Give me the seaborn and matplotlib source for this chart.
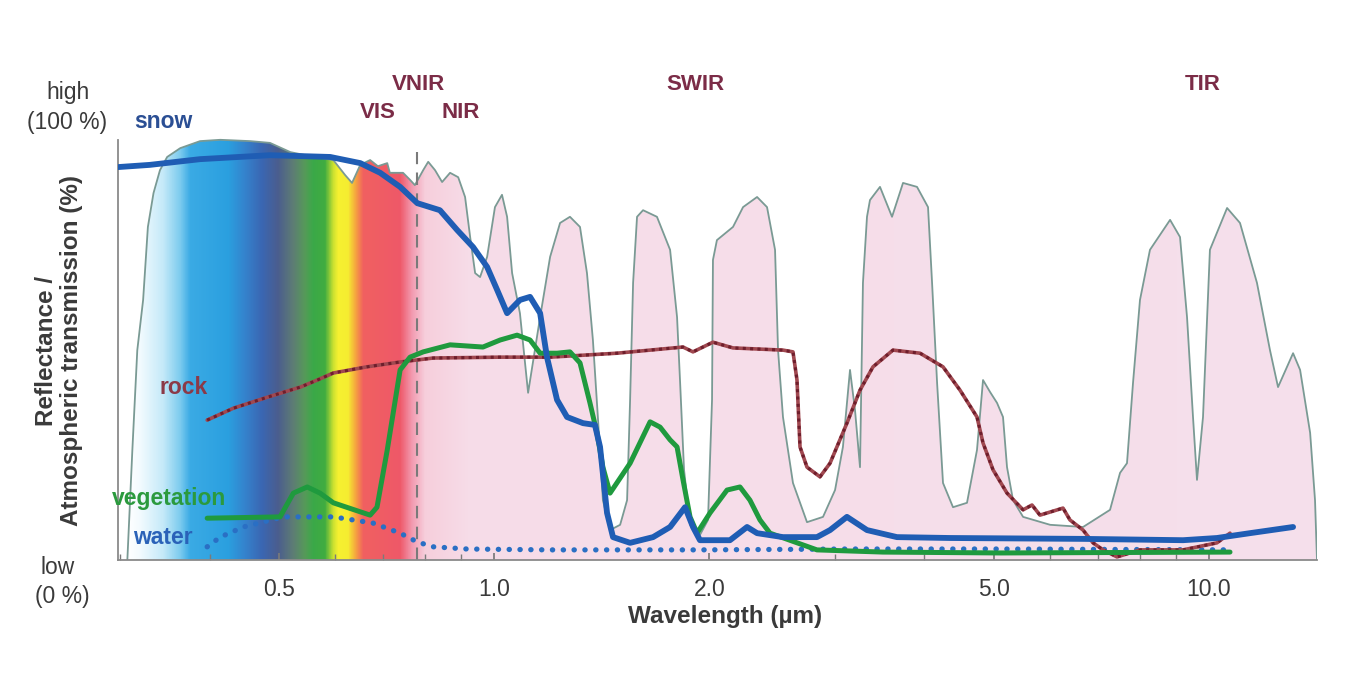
import numpy as np
import matplotlib
matplotlib.use("Agg")
import matplotlib.pyplot as plt
import seaborn as sns
from matplotlib.colors import LinearSegmentedColormap
from matplotlib.ticker import FixedLocator, FixedFormatter, NullFormatter, LogLocator

# === Data === #

# atmospheric transmission (outline of the windows), wavelength in um / percent
trans_um = [0.307, 0.312, 0.317, 0.323, 0.328, 0.334, 0.341, 0.349, 0.364, 0.388,
            0.414, 0.456, 0.486, 0.519, 0.553, 0.596, 0.619, 0.633, 0.650, 0.671,
            0.688, 0.709, 0.715, 0.746, 0.763, 0.775, 0.796, 0.809, 0.827, 0.846,
            0.868, 0.891, 0.911, 0.926, 0.941, 0.956, 0.978, 1.003, 1.026, 1.043,
            1.060, 1.087, 1.116, 1.160, 1.198, 1.237, 1.277, 1.319, 1.349, 1.375,
            1.398, 1.420, 1.453, 1.501, 1.535, 1.550, 1.565, 1.585, 1.616, 1.690,
            1.763, 1.803, 1.821, 1.844, 1.880, 1.941, 1.992, 2.018, 2.024, 2.050,
            2.159, 2.230, 2.333, 2.409, 2.472, 2.496, 2.536, 2.619, 2.740, 2.885,
            2.999, 3.076, 3.147, 3.198, 3.250, 3.281, 3.324, 3.356, 3.466, 3.603,
            3.733, 3.905, 4.046, 4.099, 4.166, 4.246, 4.385, 4.587, 4.737, 4.830,
            4.940, 5.053, 5.151, 5.218, 5.320, 5.495, 5.995, 6.666, 7.271, 7.509,
            7.679, 7.829, 8.007, 8.269, 8.822, 9.109, 9.317, 9.498, 9.621, 9.809,
            10.03, 10.60, 11.05, 11.67, 12.17, 12.49, 13.11, 13.41, 13.85, 14.07,
            14.16]
trans_pct = [0, 25.0, 47.7, 59.1, 75.7, 83.4, 88.6, 91.6, 93.6, 95.2,
             95.5, 95.2, 94.8, 92.7, 91.8, 90.9, 87.5, 85.7, 89.8, 90.9,
             89.5, 90.2, 88.0, 88.0, 86.4, 85.2, 88.6, 90.5, 88.6, 85.9,
             88.0, 87.0, 82.5, 73.4, 65.2, 64.3, 68.9, 80.2, 83.0, 78.0,
             65.2, 56.1, 38.0, 55.2, 68.9, 76.6, 78.0, 75.7, 65.2, 50.0,
             31.8, 13.6, 6.8, 8.0, 13.6, 36.4, 63.0, 78.0, 79.5, 78.0,
             70.5, 55.2, 40.2, 20.5, 8.0, 5.7, 9.1, 36.4, 68.2, 72.7,
             75.7, 80.2, 82.5, 80.2, 70.5, 47.7, 32.5, 17.5, 8.6, 9.8,
             15.9, 25.7, 43.2, 34.1, 21.1, 63.0, 78.0, 81.8, 84.8, 78.0,
             85.7, 84.8, 80.2, 63.0, 40.2, 17.5, 12.0, 13.0, 25.0, 40.9,
             38.2, 35.7, 32.5, 21.1, 13.6, 9.8, 8.0, 7.5, 11.4, 19.8,
             22.0, 40.2, 59.1, 70.5, 77.3, 73.4, 55.2, 32.5, 18.2, 32.5,
             70.5, 80.0, 76.6, 63.0, 47.7, 39.3, 47.0, 43.2, 28.9, 13.6,
             0]

# reflectance spectra
snow_um = [0.298, 0.330, 0.388, 0.486, 0.590, 0.650, 0.693, 0.739, 0.781, 0.840,
           0.888, 0.935, 0.978, 1.010, 1.043, 1.087, 1.123, 1.160, 1.186, 1.225,
           1.265, 1.332, 1.384, 1.407, 1.439, 1.467, 1.550, 1.669, 1.763, 1.850,
           1.898, 1.941, 2.138, 2.259, 2.333, 2.536, 2.829, 2.951, 3.116, 3.324,
           3.661, 4.343, 6.666, 9.198, 10.26, 11.41, 13.11]
snow_pct = [89.3, 89.8, 91.1, 92.0, 91.6, 90.2, 88.0, 84.8, 81.1, 79.5,
            75.0, 71.1, 66.6, 61.4, 56.1, 59.1, 59.8, 56.1, 46.1, 36.4,
            32.5, 31.1, 30.7, 25.7, 10.7, 5.2, 3.9, 5.2, 7.5, 12.0,
            7.5, 4.5, 4.5, 7.5, 6.1, 5.2, 5.2, 6.8, 9.8, 6.8,
            5.2, 5.0, 4.8, 4.5, 5.0, 6.1, 7.5]

veg_um = [0.397, 0.502, 0.524, 0.548, 0.571, 0.596, 0.671, 0.686, 0.709, 0.739,
          0.763, 0.796, 0.868, 0.965, 1.020, 1.077, 1.123, 1.160, 1.225, 1.277,
          1.319, 1.362, 1.393, 1.420, 1.453, 1.550, 1.653, 1.707, 1.763, 1.803,
          1.838, 1.880, 1.923, 2.005, 2.118, 2.208, 2.280, 2.355, 2.432, 2.829,
          3.499, 5.103, 10.70]
veg_pct = [9.5, 9.8, 15.2, 16.6, 15.2, 13.0, 10.2, 12.0, 25.0, 43.2,
           46.1, 47.3, 48.9, 48.4, 50.0, 51.1, 50.0, 47.0, 47.0, 47.3,
           44.8, 35.7, 28.9, 21.1, 15.2, 22.0, 31.4, 30.2, 27.3, 25.7,
           18.2, 9.8, 6.1, 10.7, 15.9, 16.6, 13.6, 9.1, 6.1, 2.3,
           1.8, 1.6, 1.8]

rock_um = [0.397, 0.432, 0.482, 0.536, 0.566, 0.596, 0.664, 0.739, 0.822, 1.020,
           1.198, 1.486, 1.838, 1.898, 2.024, 2.159, 2.536, 2.619, 2.653, 2.679,
           2.740, 2.857, 2.951, 3.116, 3.250, 3.389, 3.614, 3.943, 4.246, 4.485,
           4.737, 4.830, 4.988, 5.218, 5.495, 5.655, 5.802, 5.995, 6.249, 6.391,
           6.666, 6.884, 7.109, 7.436, 8.007, 9.198, 10.26, 10.70]
rock_pct = [31.8, 34.5, 37.0, 39.3, 40.9, 42.5, 43.9, 45.0, 45.9, 46.1,
            46.1, 47.0, 48.4, 47.3, 49.5, 48.2, 47.7, 47.3, 40.9, 25.7,
            21.1, 18.9, 22.0, 31.1, 38.6, 43.9, 47.7, 47.0, 43.9, 38.6,
            32.5, 26.6, 20.5, 15.2, 11.4, 12.5, 10.2, 10.9, 11.8, 9.1,
            6.8, 3.9, 2.3, 0.7, 2.3, 2.3, 3.9, 6.1]

water_um = [0.397, 0.414, 0.446, 0.507, 0.596, 0.677, 0.739, 0.781, 0.822, 0.917,
            1.198, 1.941, 3.147, 5.103, 10.80]
water_pct = [3.0, 5.2, 7.5, 9.8, 9.8, 8.4, 6.1, 4.1, 3.0, 2.5,
             2.3, 2.3, 2.5, 2.5, 2.3]

# colours of the spectrum band painted under the transmission curve
spectrum_um = [0.3067, 0.3198, 0.3444, 0.3638, 0.3757, 0.4246, 0.4484, 0.4736,
               0.4985, 0.5235, 0.5441, 0.5584, 0.5802, 0.5955, 0.6052, 0.6250,
               0.6412, 0.6560, 0.7387, 0.7680, 0.8008, 0.9256, 14.2]
spectrum_colors = ['#ffffff', '#f2fafe', '#c4e9f8', '#7ccbee', '#3aaae4', '#2a9fdf',
                   '#3482cc', '#3a66b2', '#4a5d8e', '#5d7c74', '#559a58', '#3aa848',
                   '#40ac40', '#c8e030', '#f5f030', '#f5ec30', '#f5a040', '#f06060',
                   '#ee5868', '#f29ab0', '#f6cedb', '#f6dce8', '#f5dfeb']

tick_um = [0.5, 1.0, 2.0, 5.0, 10.0]
tick_labels = ['0.5', '1.0', '2.0', '5.0', '10.0']
vnir_split_um = 0.78
x_range = (0.2979, 14.16)

# === Figure === #
sns.set_theme(style='white')
plt.rcParams['font.family'] = ['Liberation Sans', 'DejaVu Sans']

W, H = 1346, 700
fig = plt.figure(figsize=(W / 100, H / 100), dpi=100)
ax = fig.add_axes([118 / W, 140 / H, 1199 / W, 440 / H])
ax.set_xscale('log')
ax.set_xlim(*x_range)
ax.set_ylim(0, 100)

# spectrum gradient, clipped to the transmission windows
edges = np.geomspace(x_range[0], x_range[1], 1200)
centers = np.sqrt(edges[:-1] * edges[1:])
lo, hi = np.log10(spectrum_um[0]), np.log10(spectrum_um[-1])
stops = (np.log10(spectrum_um) - lo) / (hi - lo)
cmap = LinearSegmentedColormap.from_list('spectrum', list(zip(stops, spectrum_colors)),
                                         N=4096)
cval = np.clip((np.log10(centers) - lo) / (hi - lo), 0, 1)
mesh = ax.pcolormesh(edges, [0, 100], cval[None, :], cmap=cmap, vmin=0, vmax=1,
                     shading='flat', zorder=0, antialiased=False, linewidth=0,
                     edgecolors='none')
window = ax.fill_between(trans_um, 0, trans_pct, facecolor='none', edgecolor='none')
mesh.set_clip_path(window.get_paths()[0], transform=ax.transData)

sns.lineplot(x=trans_um, y=trans_pct, ax=ax, color='#7a9a94', linewidth=1.3,
             sort=False, estimator=None, zorder=1)

ax.axvline(vnir_split_um, ymax=0.927, color='#7a7a7a', linewidth=1.5,
           linestyle=(0, (6, 4)), zorder=2)

sns.lineplot(x=water_um, y=water_pct, ax=ax, color='#2a6fc4', linewidth=3.8,
             linestyle=(0, (0.05, 2.0)), dash_capstyle='round',
             sort=False, estimator=None, zorder=3)
# rock: reddish line with a darker beaded texture on top
sns.lineplot(x=rock_um, y=rock_pct, ax=ax, color='#a04850', linewidth=2.6,
             sort=False, estimator=None, zorder=4)
sns.lineplot(x=rock_um, y=rock_pct, ax=ax, color='#6e1e2c', linewidth=2.2,
             linestyle=(0, (1.0, 1.4)), sort=False, estimator=None, zorder=4)
sns.lineplot(x=veg_um, y=veg_pct, ax=ax, color='#1f9a3e', linewidth=3.6,
             sort=False, estimator=None, zorder=5)
sns.lineplot(x=snow_um, y=snow_pct, ax=ax, color='#1f5db4', linewidth=4.2,
             sort=False, estimator=None, zorder=6)

# axes styling
for side in ['top', 'right']:
    ax.spines[side].set_visible(False)
ax.spines['left'].set_bounds(0, 95.5)
for side in ['left', 'bottom']:
    ax.spines[side].set_color('#8a8a8a')
    ax.spines[side].set_linewidth(1.3)
ax.set_yticks([])
ax.xaxis.set_major_locator(FixedLocator(tick_um))
ax.xaxis.set_major_formatter(FixedFormatter(tick_labels))
ax.xaxis.set_minor_locator(LogLocator(base=10, subs=np.arange(2, 10)))
ax.xaxis.set_minor_formatter(NullFormatter())
ax.tick_params(axis='x', which='both', direction='in', color='#7a7a7a', bottom=True)
ax.tick_params(axis='x', which='major', length=5, pad=13, labelsize=16.5,
               labelcolor='#3a3a3a')
ax.tick_params(axis='x', which='minor', length=4)
ax.set_xlabel('')
ax.set_ylabel('')


def label(px, py, s, **kw):
    fig.text(px / W, 1 - py / H, s, ha='center', va='center', **kw)


dark = '#3a3a3a'
band = '#7b2c47'
label(725, 617, 'Wavelength (µm)', fontsize=17.5, fontweight='bold', color=dark)
label(47, 351, 'Reflectance /', fontsize=17.5, fontweight='bold', color=dark, rotation=90)
label(72, 351, 'Atmospheric transmission (%)', fontsize=17.5, fontweight='bold',
      color=dark, rotation=90)
label(68, 93, 'high', fontsize=16.5, color=dark)
label(67, 122, '(100 %)', fontsize=16.5, color=dark)
label(58, 568, 'low', fontsize=16.5, color=dark)
label(62, 597, '(0 %)', fontsize=16.5, color=dark)

label(418, 85, 'VNIR', fontsize=16, fontweight='bold', color=band)
label(378, 113, 'VIS', fontsize=16, fontweight='bold', color=band)
label(461, 113, 'NIR', fontsize=16, fontweight='bold', color=band)
label(695, 85, 'SWIR', fontsize=16, fontweight='bold', color=band)
label(1203, 85, 'TIR', fontsize=16, fontweight='bold', color=band)

label(163, 122, 'snow', fontsize=16.5, fontweight='bold', color='#2b4f94')
label(184, 388, 'rock', fontsize=16.5, fontweight='bold', color='#8b3a48')
label(169, 498, 'vegetation', fontsize=16.5, fontweight='bold', color='#2b9a3e')
label(163, 538, 'water', fontsize=16.5, fontweight='bold', color='#2a62b8')

fig.savefig('out.png', dpi=100)
